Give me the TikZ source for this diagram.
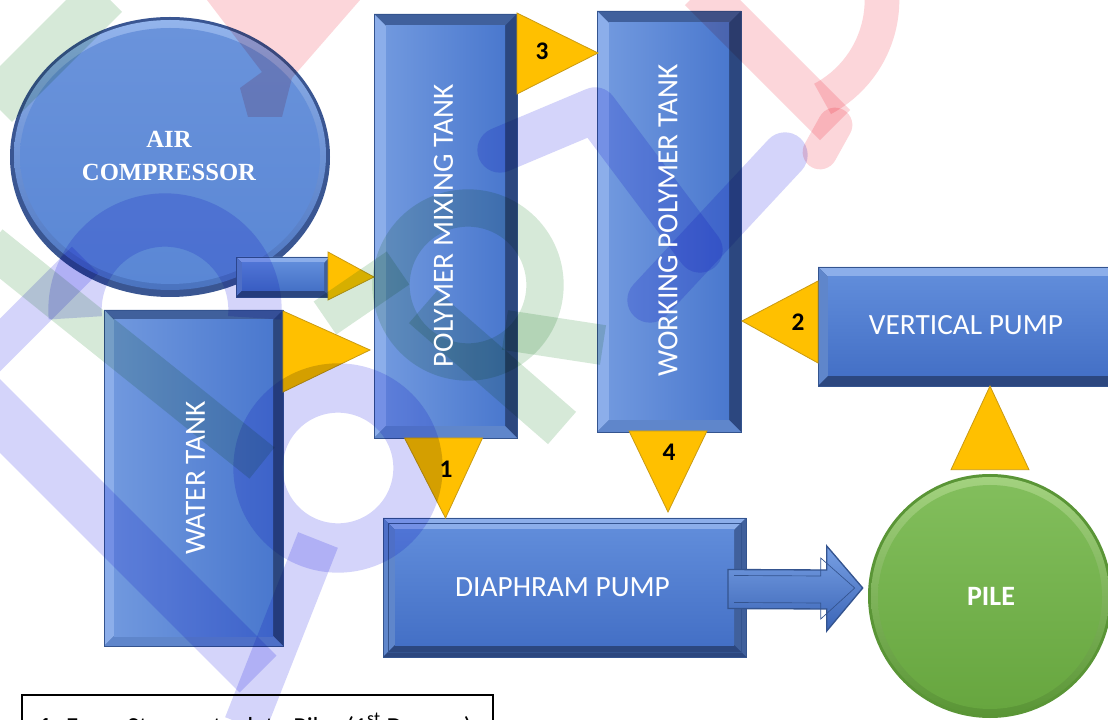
\documentclass[tikz,border=0pt]{standalone}
\usepackage{fontspec}
\setmainfont{Carlito}
\newfontfamily\acfont{Liberation Serif}
\usetikzlibrary{calc,fit,shapes.geometric}
\definecolor{trifill}{HTML}{FFC000}
\definecolor{triline}{HTML}{C99A12}
\definecolor{bvline}{HTML}{34548F}
\definecolor{bvlight}{HTML}{8CAEEA}
\definecolor{bvmid}{HTML}{5F86CB}
\definecolor{bvdark}{HTML}{2C477F}
\definecolor{bvslate}{HTML}{40609C}
\definecolor{acrim}{HTML}{3A5692}
\definecolor{aclight}{HTML}{93B4EC}
\definecolor{acmid}{HTML}{4A73BF}
\definecolor{acin1}{HTML}{6A93DB}
\definecolor{acin2}{HTML}{5A87D5}
\definecolor{pilerim}{HTML}{5A9536}
\definecolor{pilelight}{HTML}{A3D27F}
\definecolor{pilein1}{HTML}{82BE5C}
\definecolor{pilein2}{HTML}{67A63F}
\definecolor{wlav}{RGB}{212,212,250}
\definecolor{wpink}{RGB}{252,214,218}
\definecolor{wgreen}{RGB}{214,233,216}
\tikzset{
  bvtoph/.style={fill=bvlight}, bvlefth/.style={fill=bvmid},
  bvrighth/.style={fill=bvslate}, bvbottomh/.style={fill=bvdark},
  bvtopv/.style={fill=bvslate}, bvleftv/.style={fill=bvlight},
  bvrightv/.style={fill=bvdark}, bvbottomv/.style={fill=bvmid},
  shh/.style={top color={rgb,255:red,96;green,140;blue,218}, bottom color={rgb,255:red,68;green,112;blue,198}},
  shv/.style={left color={rgb,255:red,112;green,152;blue,222}, right color={rgb,255:red,74;green,120;blue,206}},
  lbl/.style={text=white, font=\fontsize{22}{26}\selectfont, inner sep=0pt},
  num/.style={text=black, font=\fontsize{19}{22}\selectfont\bfseries, inner sep=0pt},
  tri/.style={fill=trifill, draw=triline, line width=0.6pt, line join=miter},
  barrow/.style={top color={rgb,255:red,120;green,160;blue,228}, bottom color={rgb,255:red,58;green,100;blue,182}, draw=bvline, line width=1pt, line join=miter},
}
\newcommand\bevbox[7]{%
  \node[fit={(#2,#3)(#4,#5)}, inner sep=0pt, outer sep=0pt] (#1) {};
  \fill[bvline] (#1.north west) rectangle (#1.south east);
  \fill[bvtop#7] (#1.north west) -- (#1.north east) -- ($(#1.north east)+(-#6,#6)$) -- ($(#1.north west)+(#6,#6)$) -- cycle;
  \fill[bvleft#7] (#1.north west) -- ($(#1.north west)+(#6,#6)$) -- ($(#1.south west)+(#6,-#6)$) -- (#1.south west) -- cycle;
  \fill[bvright#7] (#1.north east) -- (#1.south east) -- ($(#1.south east)+(-#6,-#6)$) -- ($(#1.north east)+(-#6,#6)$) -- cycle;
  \fill[bvbottom#7] (#1.south west) -- (#1.south east) -- ($(#1.south east)+(-#6,-#6)$) -- ($(#1.south west)+(#6,-#6)$) -- cycle;
  \shade[sh#7] ($(#1.north west)+(#6,#6)$) rectangle ($(#1.south east)+(-#6,-#6)$);
  \draw[bvline, line width=0.6pt] (#1.north west) rectangle (#1.south east);
}
\begin{document}
\begin{tikzpicture}[x=0.75pt,y=-0.75pt]
\useasboundingbox (0,0) rectangle (1108,720);
\fill[white] (0,0) rectangle (1108,720);

% air compressor
\node[ellipse, minimum width=240pt, minimum height=210pt, inner sep=0pt] (ac) at (170,157) {};
\fill[acrim] (ac.center) ellipse [x radius=160, y radius=140];
\shade[top color=aclight, bottom color=acmid] ($(ac.center)+(0,-2)$) ellipse [x radius=156, y radius=135];
\shade[top color=acin1, bottom color=acin2] ($(ac.center)+(0,-1)$) ellipse [x radius=150, y radius=128];
\bevbox{tail}{236}{257}{330}{297}{6}{h}

% tanks and pumps
\bevbox{wt}{104}{310}{283}{646}{10}{v}
\bevbox{pmt}{374}{14}{517}{438}{12}{v}
\bevbox{wpt}{597}{11}{741}{432}{12}{v}
\bevbox{dp}{383}{518}{746}{657}{12}{h}
\draw[bvline, line width=0.6pt] ($(dp.north west)+(5,5)$) rectangle ($(dp.south east)+(-5,-5)$);
\bevbox{vp}{818}{267}{1122}{386}{10}{h}

% pile
\node[circle, minimum size=183pt, inner sep=0pt] (pile) at (990,596) {};
\fill[pilerim] (pile.center) circle [radius=122];
\shade[top color=pilelight, bottom color=pilerim] (pile.center) circle [radius=119];
\shade[top color=pilein1, bottom color=pilein2] ($(pile.center)+(0,1)$) circle [radius=112];

% wedge connectors
\filldraw[tri] ($(tail.east)+(-2,-25)$) -- ($(tail.east)+(-2,23)$) -- (tail.east -| pmt.west) -- cycle;
\filldraw[tri] ($(wt.north east)+(0,1)$) -- ($(wt.north east)+(0,82)$) -- ($(wt.north east)+(87,40)$) -- cycle;
\filldraw[tri] ($(pmt.north east)+(0,-1)$) -- ($(pmt.north east)+(0,80)$) -- ($(pmt.north east)+(81,39)$) -- cycle;
\filldraw[tri] ($(pmt.south)+(-41,0)$) -- ($(pmt.south)+(37,0)$) -- (pmt.south |- dp.north) -- cycle;
\filldraw[tri] ($(wpt.south)+(-40,-1)$) -- ($(wpt.south)+(38,-1)$) -- ($(wpt.south)+(-1,80)$) -- cycle;
\filldraw[tri] ($(vp.north west)+(0,14)$) -- ($(vp.north west)+(0,96)$) -- ($(vp.north west)+(-76,54)$) -- cycle;
\filldraw[tri] ($(pile.north)+(-39,-4)$) -- ($(pile.north)+(39,-4)$) -- (pile.north |- vp.south) -- cycle;

% block arrow pump -> pile
\coordinate (ar0) at ($(dp.east)+(-18,0)$);
\coordinate (ar1) at ($(pile.west)+(-5,-8)$);
\shadedraw[barrow] ($(ar0)+(0,-18)$) -- ($(ar1)+(-36,-18)$) -- ($(ar1)+(-36,-42)$) -- (ar1) -- ($(ar1)+(-36,43)$) -- ($(ar1)+(-36,21)$) -- ($(ar0)+(0,21)$) -- cycle;
\draw[bvline, line width=0.5pt] ($(ar0)+(6,-12)$) -- ($(ar1)+(-42,-12)$) -- ($(ar1)+(-42,-30)$) -- ($(ar1)+(-8,0)$) -- ($(ar1)+(-42,31)$) -- ($(ar1)+(-42,15)$) -- ($(ar0)+(6,15)$);

% watermark
\begin{scope}[blend mode=multiply, line cap=butt, line join=round]
\draw[wlav, line width=40pt] (165,310) ++(175:90) arc[start angle=175, end angle=365, radius=90];
\draw[wlav, line width=28pt] (-20,365) -- (85,260);
\draw[wlav, line width=39pt] (-20,396) -- (258,674);
\draw[wlav, line width=37pt] (338,468) circle [radius=80];
\draw[wlav, line width=32pt] (318,540) -- (245,725);
\draw[wlav, line width=34pt, line cap=round] (500,150) -- (595,110) -- (700,250);
\draw[wlav, line width=34pt, line cap=round] (785,155) -- (650,300);
\draw[wpink, line width=32pt] (700,-10) -- (835,125);
\draw[wpink, line width=26pt] (770,0) ++(-5:112) arc[start angle=-5, end angle=62, radius=112];
\draw[wpink, line width=26pt, line cap=round] (835,125) -- (820,152);
\fill[wpink] (207,0) -- (360,0) -- (292,78) -- (282,117) -- (248,117) -- (240,88) -- (262,72) -- cycle;
\draw[wgreen, line width=36pt] (-5,105) -- (105,-5);
\draw[wgreen, line width=30pt] (-10,245) -- (262,463);
\draw[wgreen, line width=28pt] (468,285) circle [radius=77];
\draw[wgreen, line width=32pt] (423,307) -- (562,428);
\draw[wgreen, line width=30pt] (505,330) -- (603,345);
\draw[wgreen, line width=30pt] (398,268) -- (325,318);
\end{scope}

% labels
\node[text=white, align=center, font=\acfont\bfseries\fontsize{18.5}{24.5}\selectfont, inner sep=0pt] (actext) at ($(ac.center)+(-1,-1)$) {AIR\\COMPRESSOR};
\node[lbl, rotate=90] (wttext) at ($(wt.center)+(2,0)$) {WATER TANK};
\node[lbl, rotate=90] (pmttext) at ($(pmt.center)+(-2,0)$) {POLYMER MIXING TANK};
\node[lbl, rotate=90] (wpttext) at ($(wpt.center)+(-1,-1)$) {WORKING POLYMER TANK};
\node[lbl] (dptext) at ($(dp.center)+(-2,0)$) {DIAPHRAM PUMP};
\node[lbl] (vptext) at (966,325) {VERTICAL PUMP};
\node[text=white, font=\fontsize{21}{24}\selectfont\bfseries, inner sep=0pt] (piletext) at ($(pile.center)+(1,0)$) {PILE};
\node[num] (n3) at (542,51) {3};
\node[num] (n1) at (446,469) {1};
\node[num] (n4) at (669,452) {4};
\node[num] (n2) at (798,322) {2};

% legend
\node[fit={(22,695)(493,745)}, inner sep=0pt, draw=black, line width=1.1pt] (legend) {};
\node[anchor=base west, font=\fontsize{19.5}{23}\selectfont, inner sep=0pt] (legtext) at (38,735) {\textbf{1.} From Storage tank to Pile. (1\textsuperscript{st} Dosage)};
\end{tikzpicture}
\end{document}
